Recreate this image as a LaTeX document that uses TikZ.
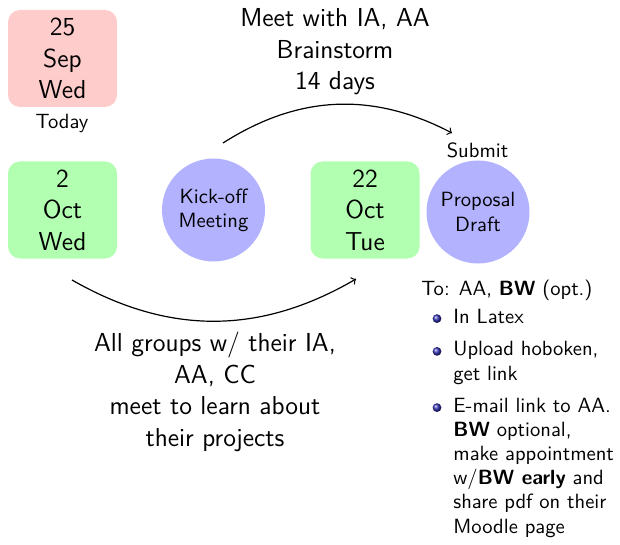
\documentclass[tikz,border=0pt]{standalone}
\usetikzlibrary{calc}
\definecolor{beamerball}{rgb}{0.2,0.2,0.7}
\newcommand{\bigtxt}{\fontsize{13}{15.8}\selectfont}
\newcommand{\smalltxt}{\fontsize{10.3}{12.1}\selectfont}
\begin{document}
\begin{tikzpicture}[x=0.5pt,y=-0.5pt,font=\sffamily,
  datebox/.style={rounded corners=6pt,minimum width=54.5pt,minimum height=48.5pt,
    align=center,font=\sffamily\bigtxt,inner sep=0pt},
  today/.style={datebox,fill=red!20},
  later/.style={datebox,fill=green!30},
  event/.style={circle,fill=blue!30,minimum size=51.5pt,inner sep=0pt,
    align=center,font=\sffamily\smalltxt},
  note/.style={align=center,font=\sffamily\bigtxt,inner sep=0pt},
  small/.style={font=\sffamily\smalltxt,inner sep=0pt},
  item/.style={small,align=left,anchor=base west},
  span/.style={->,line width=0.6pt}]
\useasboundingbox (0,0) rectangle (620,545);

% calendar days
\node[today] (sep25) at (62.5,58.5) {25\\Sep\\Wed};
\node[small] (todaylbl) at (62,123) {Today};
\node[later] (oct2) at (62.5,210) {2\\Oct\\Wed};
\node[later] (oct22) at (365,210) {22\\Oct\\Tue};

% milestones
\node[event] (kickoff) at (213.5,210) {Kick-off\\Meeting};
\node[event] (draft) at (478,212) {Proposal\\Draft};
\node[small] (submit) at (477.5,150) {Submit};

% spans between milestones
\coordinate (t1) at (223,143);
\coordinate (t2) at (452,133);
\draw[span] (t1) to[bend left=30] (t2);
\coordinate (b1) at (72,280);
\coordinate (b2) at (356,279);
\draw[span] (b1) to[bend right=30] (b2);

\node[note] (brain) at (335,52) {Meet with IA, AA\\Brainstorm\\14 days};
\node[note] (groups) at (215,392) {All groups w/ their IA,\\AA, CC\\meet to learn about\\their projects};

% submission notes (each node sits on the baseline of its last line)
\node[item] (to) at (421,295) {To: AA, \textbf{BW} (opt.)};
\node[item] (i1) at (453,323) {In Latex};
\node[item] (i2) at (453,380) {Upload hoboken,\\get link};
\node[item] (i3) at (453,533) {E-mail link to AA.\\\textbf{BW} optional,\\make appointment\\w/\textbf{BW early} and\\share pdf on their\\Moodle page};
\foreach \b in {i1,i2,i3}
  \shade[ball color=beamerball] ($(\b.north west)+(-16,10.3)$) circle (2.2pt);
\end{tikzpicture}
\end{document}
